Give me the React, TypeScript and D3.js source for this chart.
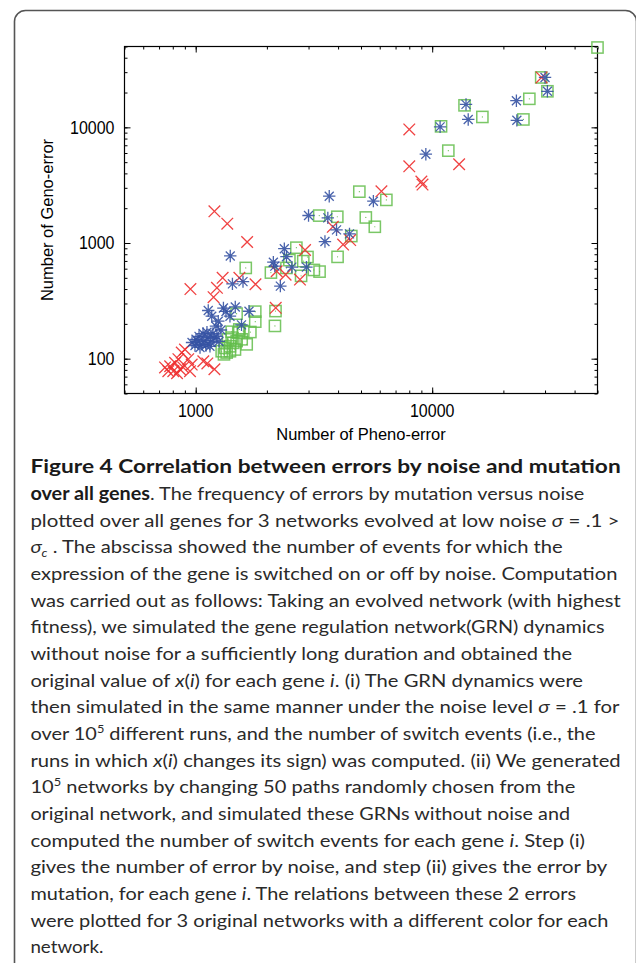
import React, { useEffect, useRef } from "react";
import * as d3 from "d3";

// pheno-error (x) vs geno-error (y)
const redPheno = [29000, 8000, 8000, 9000, 9100, 13000, 6100, 3800, 4200, 4500, 2900, 2760, 2400, 2180, 2200,
  1200, 1360, 1650, 950, 1300, 1230, 1190, 1530, 1790, 1120, 1200,
  780, 818, 845, 873, 901, 858, 886, 930, 962, 804, 766, 1077, 834, 946, 742];
const redGeno = [27000, 9600, 4600, 3400, 3200, 4800, 2800, 1380, 970, 1060, 870, 483, 533, 275, 570,
  1880, 1470, 1020, 400, 500, 410, 340, 500, 440, 91, 81,
  86, 92, 99, 113, 120, 81, 84, 99, 89, 78, 78, 95, 75, 78, 84];

const bluePheno = [30000, 30700, 22700, 22800, 13900, 14200, 10800, 9400, 5640, 3670, 3000, 3620, 3940, 4470, 3520,
  2370, 2420, 2130, 2160, 2550, 2940, 2280, 1400, 1430, 1585, 1130, 1310, 1470, 1680, 1246, 1218, 1279, 1562, 1396, 1169, 1343,
  965, 1003, 1033, 1063, 1095, 1127, 1160, 1195, 1043, 993, 1149, 1230, 1254, 1074, 1116, 1183, 1023, 1105];
const blueGeno = [27000, 20500, 17000, 11500, 15800, 11700, 10100, 5860, 2300, 2540, 1730, 1650, 1300, 1200, 1030,
  893, 762, 683, 631, 619, 619, 424, 773, 443, 464, 261, 274, 280, 257, 211, 191, 177, 196, 233, 233, 256,
  138, 147, 156, 133, 144, 153, 138, 150, 125, 130, 128, 156, 141, 165, 169, 165, 141, 130];

const greenPheno = [50000, 28900, 30700, 25750, 24300, 13700, 16300, 10900, 11700, 4920, 6400, 3330, 3970, 5240, 5720,
  4550, 3980, 2665, 2970, 2850, 2490, 3160, 3340, 2790, 2080, 2420, 1628, 2175, 2163, 1786, 1786, 1703, 1489, 1529, 1420,
  1288, 1330, 1396, 1442, 1490, 1565, 1514, 1589, 1420, 1352, 1466, 1643, 1396, 1317, 1370];
const greenGeno = [49000, 27000, 20500, 17650, 11700, 15500, 12300, 10200, 6290, 2780, 2360, 1726, 1686, 1663, 1382,
  1149, 759, 911, 757, 697, 711, 585, 566, 520, 555, 609, 609, 258, 192, 255, 209, 170, 245, 179, 171,
  116, 124, 128, 137, 142, 147, 168, 173, 152, 113, 120, 133, 116, 109, 147];

const xDomain = [500, 50000];
const yDomain = [50, 50000];
const xTickValues = [1000, 10000];
const yTickValues = [100, 1000, 10000];
const xLabel = "Number of Pheno-error";
const yLabel = "Number of Geno-error";

type Seg = { t: string; b?: boolean; i?: boolean; sup?: boolean; sub?: boolean };
const captionLines: Seg[][] = [
  [{ t: "Figure 4 Correlation between errors by noise and mutation", b: true }],
  [{ t: "over all genes", b: true }, { t: ". The frequency of errors by mutation versus noise" }],
  [{ t: "plotted over all genes for 3 networks evolved at low noise " }, { t: "σ", i: true }, { t: " = .1 >" }],
  [{ t: "σ", i: true }, { t: "c", i: true, sub: true }, { t: " . The abscissa showed the number of events for which the" }],
  [{ t: "expression of the gene is switched on or off by noise. Computation" }],
  [{ t: "was carried out as follows: Taking an evolved network (with highest" }],
  [{ t: "fitness), we simulated the gene regulation network(GRN) dynamics" }],
  [{ t: "without noise for a sufficiently long duration and obtained the" }],
  [{ t: "original value of " }, { t: "x", i: true }, { t: "(" }, { t: "i", i: true }, { t: ") for each gene " }, { t: "i", i: true }, { t: ". (i) The GRN dynamics were" }],
  [{ t: "then simulated in the same manner under the noise level " }, { t: "σ", i: true }, { t: " = .1 for" }],
  [{ t: "over 10" }, { t: "5", sup: true }, { t: " different runs, and the number of switch events (i.e., the" }],
  [{ t: "runs in which " }, { t: "x", i: true }, { t: "(" }, { t: "i", i: true }, { t: ") changes its sign) was computed. (ii) We generated" }],
  [{ t: "10" }, { t: "5", sup: true }, { t: " networks by changing 50 paths randomly chosen from the" }],
  [{ t: "original network, and simulated these GRNs without noise and" }],
  [{ t: "computed the number of switch events for each gene " }, { t: "i", i: true }, { t: ". Step (i)" }],
  [{ t: "gives the number of error by noise, and step (ii) gives the error by" }],
  [{ t: "mutation, for each gene " }, { t: "i", i: true }, { t: ". The relations between these 2 errors" }],
  [{ t: "were plotted for 3 original networks with a different color for each" }],
  [{ t: "network." }],
];
const captionRight = [620.7, 584.2, 619.5, 562.7, 617.4, 620.7, 604.5, 572, 583, 619.5, 595.5, 620.7, 575.3, 570, 585, 607.3, 576, 608.5, 103.4];

const W = 636, H = 963;
const plot = { left: 124.5, right: 597.5, top: 46.5, bottom: 393.5 };

const Caption = () => {
  const x0 = 30.4;
  return (
    <g fill="#2a2a2a" fontFamily="Lato, 'Open Sans', sans-serif" fontSize={18}>
      {captionLines.map((segs, li) => {
        let shift = 0;
        return (
          <text key={li} x={x0} y={473.3 + li * 26.67} textLength={captionRight[li] - x0} lengthAdjust="spacingAndGlyphs">
            {segs.map((s, si) => {
              const target = s.sup ? -7 : s.sub ? 4 : 0;
              const dy = target - shift;
              shift = target;
              return (
                <tspan key={si} dy={dy || undefined} fontWeight={s.b ? "bold" : undefined}
                  fill={s.b ? "#1a1a1a" : undefined}
                  fontStyle={s.i ? "italic" : undefined} fontSize={s.sup || s.sub ? 11.5 : undefined}>
                  {s.t}
                </tspan>
              );
            })}
          </text>
        );
      })}
    </g>
  );
};

export default function App() {
  const ref = useRef<SVGGElement>(null);

  useEffect(() => {
    const g = d3.select(ref.current);
    g.selectAll("*").remove();

    const x = d3.scaleLog().domain(xDomain).range([plot.left, plot.right]);
    const y = d3.scaleLog().domain(yDomain).range([plot.bottom, plot.top]);

    // minor ticks on every side, pointing inward
    const addAxis = (axis: any, tr: string) => {
      const a = g.append("g").attr("transform", tr).call(axis);
      a.select(".domain").remove();
      a.selectAll("text").remove();
      a.selectAll("line").attr("stroke", "#000").attr("stroke-width", 1);
    };
    const noFmt = () => "";
    addAxis(d3.axisBottom(x).tickValues(x.ticks()).tickSize(-3).tickFormat(noFmt), `translate(0,${plot.bottom})`);
    addAxis(d3.axisTop(x).tickValues(x.ticks()).tickSize(-3).tickFormat(noFmt), `translate(0,${plot.top})`);
    addAxis(d3.axisLeft(y).tickValues(y.ticks()).tickSize(-3).tickFormat(noFmt), `translate(${plot.left},0)`);
    addAxis(d3.axisRight(y).tickValues(y.ticks()).tickSize(-3).tickFormat(noFmt), `translate(${plot.right},0)`);
    addAxis(d3.axisBottom(x).tickValues(xTickValues).tickSize(-6).tickFormat(noFmt), `translate(0,${plot.bottom})`);
    addAxis(d3.axisTop(x).tickValues(xTickValues).tickSize(-6).tickFormat(noFmt), `translate(0,${plot.top})`);
    addAxis(d3.axisLeft(y).tickValues(yTickValues).tickSize(-6).tickFormat(noFmt), `translate(${plot.left},0)`);
    addAxis(d3.axisRight(y).tickValues(yTickValues).tickSize(-6).tickFormat(noFmt), `translate(${plot.right},0)`);

    g.append("rect")
      .attr("x", plot.left).attr("y", plot.top)
      .attr("width", plot.right - plot.left).attr("height", plot.bottom - plot.top)
      .attr("fill", "none").attr("stroke", "#000").attr("stroke-width", 1.2);

    const font = "'Liberation Sans', Arial, sans-serif";
    g.selectAll(".xl").data(xTickValues).join("text")
      .attr("transform", (d) => `translate(${x(d)},416.7) scale(1,1.1)`)
      .attr("text-anchor", "middle").attr("font-family", font).attr("font-size", 16)
      .text((d) => String(d));
    g.selectAll(".yl").data(yTickValues).join("text")
      .attr("transform", (d) => `translate(114.5,${y(d) + 6.3}) scale(1,1.1)`)
      .attr("text-anchor", "end").attr("font-family", font).attr("font-size", 16)
      .text((d) => String(d));

    g.append("text")
      .attr("transform", `translate(${(plot.left + plot.right) / 2},439.5) scale(1,1.05)`)
      .attr("text-anchor", "middle").attr("font-family", font).attr("font-size", 16.5)
      .text(xLabel);
    g.append("text")
      .attr("transform", `translate(52.5,${(plot.top + plot.bottom) / 2}) rotate(-90) scale(1,1.05)`)
      .attr("text-anchor", "middle").attr("font-family", font).attr("font-size", 16.5)
      .text(yLabel);

    const pts = (px: number[], py: number[]) => px.map((v, i) => [x(v), y(py[i])] as [number, number]);

    const green = g.append("g");
    green.selectAll("rect").data(pts(greenPheno, greenGeno)).join("rect")
      .attr("x", (d) => d[0] - 5.6).attr("y", (d) => d[1] - 5.6)
      .attr("width", 11.2).attr("height", 11.2)
      .attr("fill", "none").attr("stroke", "#63bd4b").attr("stroke-width", 1.5).attr("stroke-opacity", 0.85);
    green.selectAll("circle").data(pts(greenPheno, greenGeno)).join("circle")
      .attr("cx", (d) => d[0]).attr("cy", (d) => d[1]).attr("r", 0.6).attr("fill", "#63bd4b");

    g.append("g").selectAll("path").data(pts(redPheno, redGeno)).join("path")
      .attr("transform", (d) => `translate(${d[0]},${d[1]})`)
      .attr("d", "M-5.8,-5.8L5.8,5.8M-5.8,5.8L5.8,-5.8")
      .attr("fill", "none").attr("stroke", "#ee2d2d").attr("stroke-width", 1.3).attr("stroke-opacity", 0.9);

    g.append("g").selectAll("path").data(pts(bluePheno, blueGeno)).join("path")
      .attr("transform", (d) => `translate(${d[0]},${d[1]})`)
      .attr("d", "M-6.2,0H6.2M0,-6.2V6.2M-4.5,-4.5L4.5,4.5M-4.5,4.5L4.5,-4.5")
      .attr("fill", "none").attr("stroke", "#3552a3").attr("stroke-width", 1.3).attr("stroke-opacity", 0.9);
  }, []);

  return (
    <svg width={W} height={H} style={{ position: "absolute", left: 0, top: 0, background: "#fff" }}>
      <rect x={14.5} y={10.5} width={622} height={1000} rx={11} fill="none" stroke="#555" strokeWidth={1.6} />
      <g ref={ref} />
      <Caption />
    </svg>
  );
}
